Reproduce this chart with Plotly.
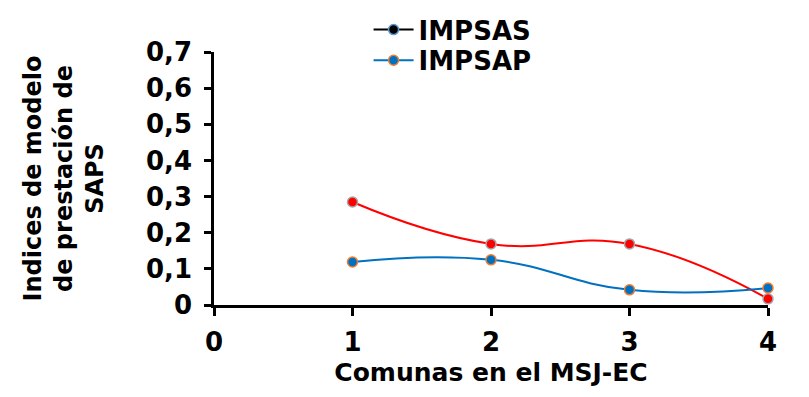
import plotly.graph_objects as go

comunas = [1, 2, 3, 4]
impsas = [0.285, 0.169, 0.169, 0.017]
impsap = [0.119, 0.125, 0.042, 0.047]
y_ticks = [0, 0.1, 0.2, 0.3, 0.4, 0.5, 0.6, 0.7]
y_ticktext = ["0", "0,1", "0,2", "0,3", "0,4", "0,5", "0,6", "0,7"]
x_ticks = [0, 1, 2, 3, 4]

FONT = "DejaVu Sans"

fig = go.Figure()
fig.add_trace(go.Scatter(
    x=comunas, y=impsas, mode="lines+markers", name="IMPSAS", showlegend=False,
    line=dict(color="#FF0000", width=2, shape="spline", smoothing=1.3),
    marker=dict(size=10, color="#FF0000", line=dict(color="#A5A5A5", width=1.5)),
    cliponaxis=False))
# legend entry as shown in the original legend
fig.add_trace(go.Scatter(
    x=[None], y=[None], mode="lines+markers", name="IMPSAS", legend="legend",
    line=dict(color="#000000", width=2),
    marker=dict(size=10, color="#000000", line=dict(color="#5B9BD5", width=1.5))))
fig.add_trace(go.Scatter(
    x=comunas, y=impsap, mode="lines+markers", name="IMPSAP", legend="legend2",
    line=dict(color="#0070C0", width=2, shape="spline", smoothing=1.3),
    marker=dict(size=10, color="#0070C0", line=dict(color="#ED7D31", width=1.5)),
    cliponaxis=False))

legend_font = dict(family=FONT, size=26, color="#000000", weight="bold")

fig.update_layout(
    width=801, height=389,
    margin=dict(l=206, r=41, t=44, b=92, autoexpand=False),
    plot_bgcolor="white", paper_bgcolor="white",
    font=dict(family=FONT, size=24, color="#000000"),
    legend=dict(x=0.279, y=1.181, xanchor="left", yanchor="top", font=legend_font,
                bgcolor="rgba(0,0,0,0)", itemwidth=40),
    legend2=dict(x=0.279, y=1.060, xanchor="left", yanchor="top", font=legend_font,
                 bgcolor="rgba(0,0,0,0)", itemwidth=40),
    xaxis=dict(range=[0, 4], tickvals=x_ticks, ticktext=[str(v) for v in x_ticks],
               showgrid=False, zeroline=False, showline=True, linecolor="black",
               linewidth=2.5, ticks="outside", ticklen=8, tickwidth=2.5, tickcolor="black",
               ticklabelstandoff=4,
               tickfont=dict(family=FONT, size=26, weight="bold"),
               title=dict(text="<b>Comunas en el MSJ-EC</b>", standoff=8,
                          font=dict(family=FONT, size=25))),
    yaxis=dict(range=[0, 0.7], tickvals=y_ticks, ticktext=y_ticktext,
               showgrid=False, zeroline=False, showline=True, linecolor="black",
               linewidth=2.5, ticks="outside", ticklen=7, tickwidth=2.5, tickcolor="black",
               ticklabelstandoff=7,
               tickfont=dict(family=FONT, size=26, weight="bold"),
               title=dict(text="<b>Indices de modelo<br>de prestación de<br>SAPS</b>",
                          standoff=36, font=dict(family=FONT, size=24))),
)

fig.write_html("out.html")
